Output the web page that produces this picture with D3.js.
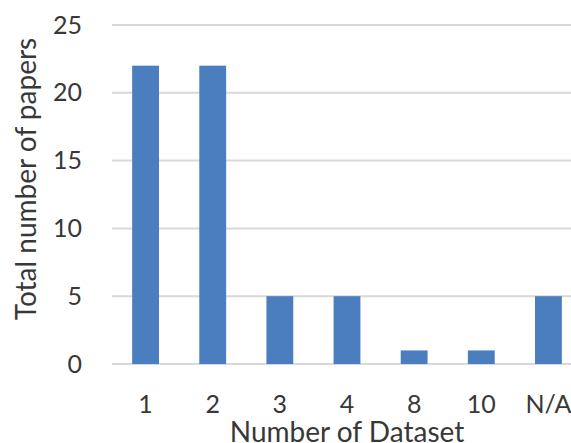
<!DOCTYPE html>
<html>
<head>
<meta charset="utf-8">
<script src="https://cdn.jsdelivr.net/npm/d3@7"></script>
<style>
  html, body { margin: 0; padding: 0; background: #fff; }
  svg { display: block; }
</style>
</head>
<body>
<svg id="chart" width="571" height="443"></svg>
<script>
// Papers grouped by how many datasets they used
const categories = ["1", "2", "3", "4", "8", "10", "N/A"];
const paperCounts = [22, 22, 5, 5, 1, 1, 5];
const yTicks = [0, 5, 10, 15, 20, 25];

const svg = d3.select("#chart");
const font = "Lato, 'Open Sans', sans-serif";
const textColor = "#383838";

const x = d3.scaleBand()
  .domain(categories)
  .range([112, 582])
  .paddingInner(0.6)
  .paddingOuter(0.3);

const y = d3.scaleLinear()
  .domain([0, 25])
  .range([364, 25]);

// horizontal gridlines
svg.append("g")
  .selectAll("line")
  .data(yTicks)
  .join("line")
  .attr("x1", 112)
  .attr("x2", 571)
  .attr("y1", d => y(d))
  .attr("y2", d => y(d))
  .attr("stroke", "#d9d9d9")
  .attr("stroke-width", 2);

// bars
svg.append("g")
  .selectAll("rect")
  .data(categories.map((c, i) => ({ c, v: paperCounts[i] })))
  .join("rect")
  .attr("x", d => x(d.c))
  .attr("width", x.bandwidth())
  .attr("y", d => y(d.v))
  .attr("height", d => y(0) - y(d.v))
  .attr("fill", "#4a7ebf");

// y axis tick labels
const yAxis = svg.append("g")
  .attr("transform", "translate(112,0)")
  .call(d3.axisLeft(y).tickValues(yTicks).tickSize(0).tickPadding(30));
yAxis.select(".domain").remove();
yAxis.selectAll("text")
  .attr("font-family", font)
  .attr("font-size", 25)
  .attr("fill", textColor);

// x axis tick labels
const xAxis = svg.append("g")
  .attr("transform", "translate(0,364)")
  .call(d3.axisBottom(x).tickSize(0).tickPadding(31));
xAxis.select(".domain").remove();
xAxis.selectAll("text")
  .attr("font-family", font)
  .attr("font-size", 25)
  .attr("fill", textColor);

// axis titles
svg.append("text")
  .attr("x", 347)
  .attr("y", 442)
  .attr("text-anchor", "middle")
  .attr("font-family", font)
  .attr("font-size", 28)
  .attr("fill", textColor)
  .text("Number of Dataset");

svg.append("text")
  .attr("transform", "translate(36,179) rotate(-90)")
  .attr("text-anchor", "middle")
  .attr("font-family", font)
  .attr("font-size", 28)
  .attr("fill", textColor)
  .text("Total number of papers");
</script>
</body>
</html>
